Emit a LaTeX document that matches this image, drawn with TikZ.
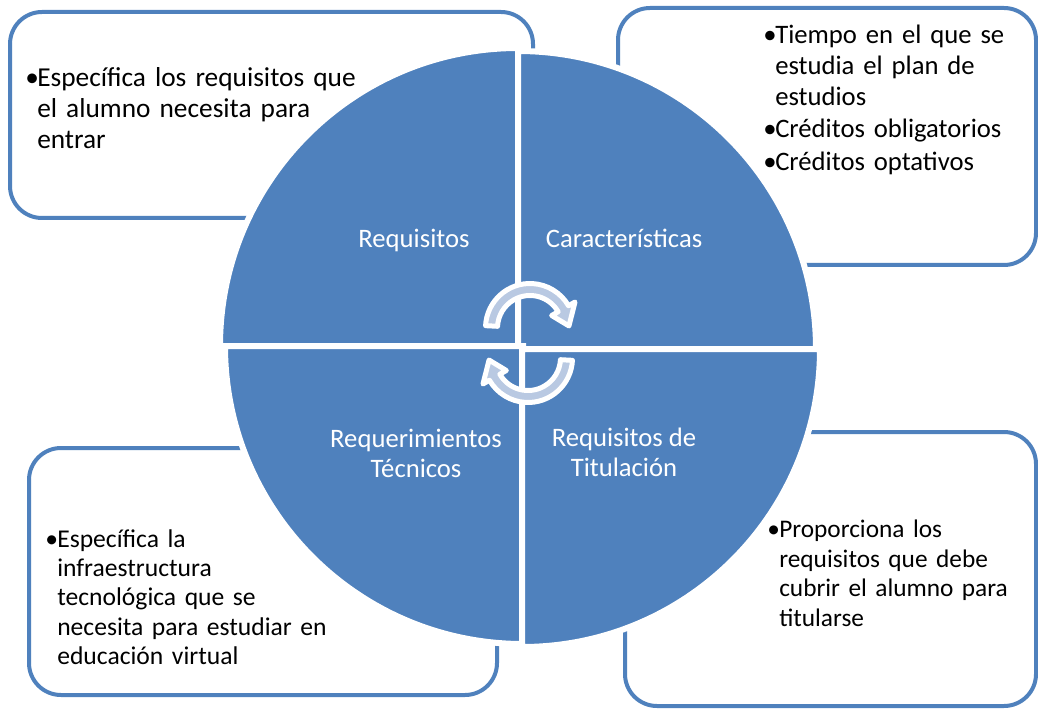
\documentclass[tikz,border=0pt]{standalone}
\usepackage{fontspec}
\setmainfont{Carlito}
\definecolor{accblue}{RGB}{79,129,189}
\definecolor{arrowfill}{RGB}{185,201,226}
\newcommand{\bul}{\par\hangindent=9pt\hangafter=1\noindent\makebox[9pt][l]{\textbullet}}
\tikzset{
  infobox/.style={draw=accblue, line width=3pt, fill=white, rounded corners=24pt},
  quadrant/.style={fill=accblue, draw=white, line width=4.5pt},
  cyclearrow/.style={fill=arrowfill, draw=white, line width=3.75pt, line join=round},
  quadlabel/.style={text=white, align=center, inner sep=0pt, font=\fontsize{20}{22.5}\selectfont},
  itemtext/.style={anchor=north west, inner sep=0pt, text width=340pt, font=\fontsize{20.5}{22.5}\selectfont\raggedright}
}
\begin{document}
\begin{tikzpicture}[x=0.75pt,y=0.75pt]
\useasboundingbox (0,0) rectangle (1038,-709);
\draw[infobox] (10,-12) rectangle (533,-218);
\draw[infobox] (618,-8) rectangle (1036,-265);
\draw[infobox] (29,-448) rectangle (497,-695);
\draw[infobox] (625,-432) rectangle (1036,-706);
\draw[quadrant] (518,-346) -- ++(-298,0) arc[start angle=180, end angle=90, radius=298] -- cycle;
\draw[quadrant] (518,-349) -- ++(0,298) arc[start angle=90, end angle=0, radius=298] -- cycle;
\draw[quadrant] (523,-346) -- ++(-298,0) arc[start angle=180, end angle=270, radius=298] -- cycle;
\draw[quadrant] (522,-349) -- ++(0,-298) arc[start angle=270, end angle=360, radius=298] -- cycle;
\begin{scope}[shift={(530,-328)}]
\draw[cyclearrow] (177:44.5) arc[start angle=177, end angle=30, radius=44.5] -- (30:52) -- (3:39) -- (30:25) -- (30:32.5) arc[start angle=30, end angle=177, radius=32.5] -- cycle;
\end{scope}
\begin{scope}[shift={(528,-358)}, rotate=180]
\draw[cyclearrow] (177:44.5) arc[start angle=177, end angle=30, radius=44.5] -- (30:52) -- (3:39) -- (30:25) -- (30:32.5) arc[start angle=30, end angle=177, radius=32.5] -- cycle;
\end{scope}
\node[quadlabel] (lblReq) at (414,-240) {Requisitos};
\node[quadlabel] (lblCar) at (624,-238) {Características};
\node[quadlabel] (lblTec) at (416,-453) {Requerimientos\\Técnicos};
\node[quadlabel] (lblTit) at (624,-452) {Requisitos de\\Titulación};
\node[itemtext, font=\fontsize{20.5}{23.25}\selectfont\raggedright] (txtReq) at (25,-55) {\bul Específica los requisitos que\newline el alumno necesita para\newline entrar\par};
\node[itemtext, font=\fontsize{20}{23}\selectfont\raggedright] (txtCar) at (763,-11) {\setlength{\parskip}{1.5pt}\bul Tiempo en el que se\newline estudia el plan de\newline estudios\bul Créditos obligatorios\bul Créditos optativos\par};
\node[itemtext, font=\fontsize{19.2}{21.9}\selectfont\raggedright] (txtTec) at (45,-518) {\bul Específica la\newline infraestructura\newline tecnológica que se\newline necesita para estudiar en\newline educación virtual\par};
\node[itemtext, font=\fontsize{19}{22.1}\selectfont\raggedright] (txtTit) at (767,-508) {\bul Proporciona los\newline requisitos que debe\newline cubrir el alumno para\newline titularse\par};
\end{tikzpicture}
\end{document}
